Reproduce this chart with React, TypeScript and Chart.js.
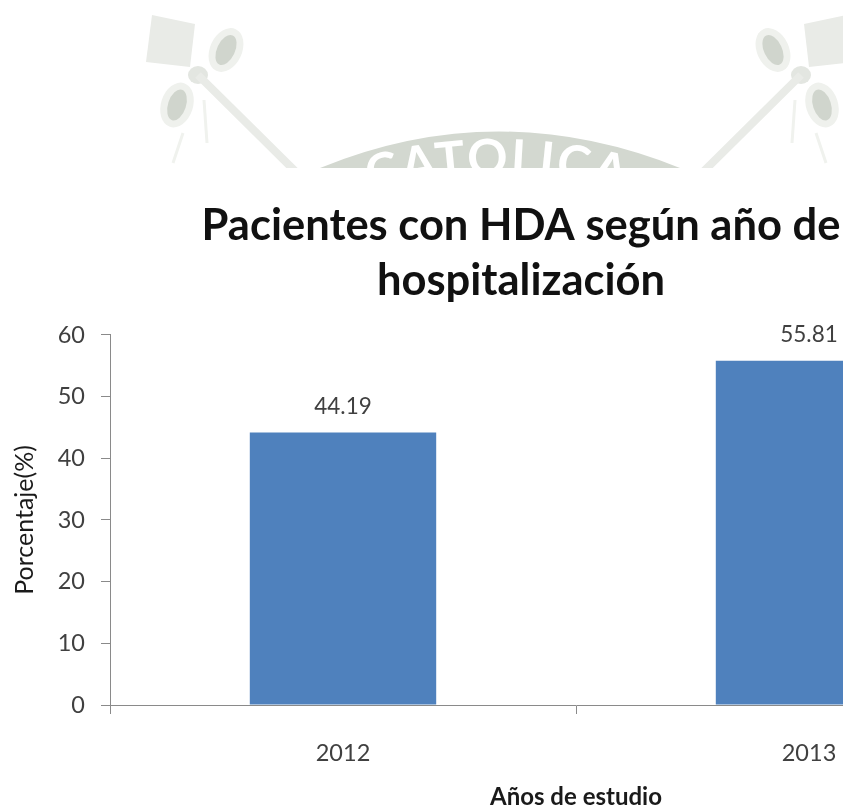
import React, { useEffect, useRef } from "react";
import { Chart, registerables } from "chart.js";

Chart.register(...registerables);

const categories = ["2012", "2013"];
const percentages = [44.19, 55.81];
const titleLines = ["Pacientes con HDA según año de", "hospitalización"];
const yAxisTitle = "Porcentaje(%)";
const xAxisTitle = "Años de estudio";
const FONT = "Lato, Carlito, sans-serif";
const TEXT = "#404040";
const AXIS = "#8a8a8a";

const valueLabels = {
  id: "valueLabels",
  afterDatasetsDraw(chart: any) {
    const { ctx } = chart;
    const meta = chart.getDatasetMeta(0);
    ctx.save();
    ctx.font = `22.5px ${FONT}`;
    ctx.fillStyle = TEXT;
    ctx.textAlign = "center";
    ctx.textBaseline = "middle";
    meta.data.forEach((bar: any, i: number) => {
      ctx.fillText(percentages[i].toFixed(2), bar.x, bar.y - 26);
    });
    ctx.restore();
  },
};

function Crest() {
  return (
    <g>
      <polygon points="152,15 195,24 190,67 146,62" fill="#e9ebe7" />
      <ellipse cx="226" cy="50" rx="16" ry="23" transform="rotate(25 226 50)" fill="#eff1ed" />
      <ellipse cx="226" cy="50" rx="9" ry="16" transform="rotate(25 226 50)" fill="#d0d5cd" />
      <ellipse cx="177" cy="105" rx="16" ry="23" transform="rotate(18 177 105)" fill="#eff1ed" />
      <ellipse cx="177" cy="105" rx="9" ry="16" transform="rotate(18 177 105)" fill="#d0d5cd" />
      <ellipse cx="198" cy="75" rx="10" ry="9" fill="#e3e6e1" />
      <line x1="198" y1="75" x2="296" y2="172" stroke="#e9ebe7" strokeWidth="8" />
      <line x1="204" y1="100" x2="207" y2="143" stroke="#f0f2ee" strokeWidth="3" />
      <line x1="183" y1="133" x2="173" y2="163" stroke="#f0f2ee" strokeWidth="3" />
    </g>
  );
}

function Watermark() {
  return (
    <svg
      width={843}
      height={168}
      style={{ position: "absolute", left: 0, top: 0 }}
      viewBox="0 0 843 168"
    >
      <Crest />
      <g transform="translate(999 0) scale(-1 1)">
        <Crest />
      </g>
      <path d="M 320 168 Q 498 95 680 168 Z" fill="#d3d8d0" />
      <path id="crestArc" d="M 345 200 Q 497 150 650 200" fill="none" />
      <text
        fontFamily={FONT}
        fontSize="50"
        fontWeight="bold"
        fill="#ffffff"
        textAnchor="middle"
        letterSpacing="2"
      >
        <textPath href="#crestArc" startOffset="50%">
          CATOLICA
        </textPath>
      </text>
    </svg>
  );
}

export default function App() {
  const ref = useRef<HTMLCanvasElement>(null);

  useEffect(() => {
    if (!ref.current) return;
    const chart = new Chart(ref.current, {
      type: "bar",
      data: {
        labels: categories,
        datasets: [
          {
            data: percentages,
            backgroundColor: "#4f81bd",
            categoryPercentage: 0.4,
            barPercentage: 1,
          },
        ],
      },
      plugins: [valueLabels],
      options: {
        animation: false,
        responsive: false,
        layout: { padding: { right: 2 } },
        plugins: {
          legend: { display: false },
          tooltip: { enabled: false },
          title: {
            display: true,
            text: titleLines,
            color: "#111111",
            font: { family: FONT, size: 43.5, weight: "bold", lineHeight: 1.264 },
            padding: { top: 198, bottom: 27 },
          },
        },
        scales: {
          x: {
            grid: {
              display: true,
              drawOnChartArea: false,
              drawTicks: true,
              tickLength: 9,
              color: AXIS,
              offset: true,
            },
            border: { color: AXIS },
            ticks: {
              color: TEXT,
              font: { family: FONT, size: 23.5 },
              padding: 25,
              maxRotation: 0,
            },
            title: {
              display: true,
              text: xAxisTitle,
              color: "#1a1a1a",
              font: { family: FONT, size: 24, weight: "bold" },
              padding: { top: 18, bottom: -3 },
            },
            afterFit(scale: any) {
              scale.height = 104;
            },
          },
          y: {
            min: 0,
            max: 60,
            grid: {
              drawOnChartArea: false,
              drawTicks: true,
              tickLength: 9,
              color: AXIS,
            },
            border: { color: AXIS },
            ticks: {
              stepSize: 10,
              color: TEXT,
              font: { family: FONT, size: 23.5 },
              padding: 16,
            },
            title: {
              display: true,
              text: yAxisTitle,
              color: "#1a1a1a",
              font: { family: FONT, size: 25 },
              padding: { top: 10, bottom: 0 },
            },
            afterFit(scale: any) {
              scale.width = 110;
            },
          },
        },
      },
    } as any);
    return () => chart.destroy();
  }, []);

  return (
    <div
      style={{
        position: "fixed",
        inset: 0,
        overflow: "hidden",
        background: "#ffffff",
      }}
    >
      <Watermark />
      <canvas
        ref={ref}
        width={1044}
        height={809}
        style={{ position: "absolute", left: 0, top: 0, display: "block" }}
      />
    </div>
  );
}
